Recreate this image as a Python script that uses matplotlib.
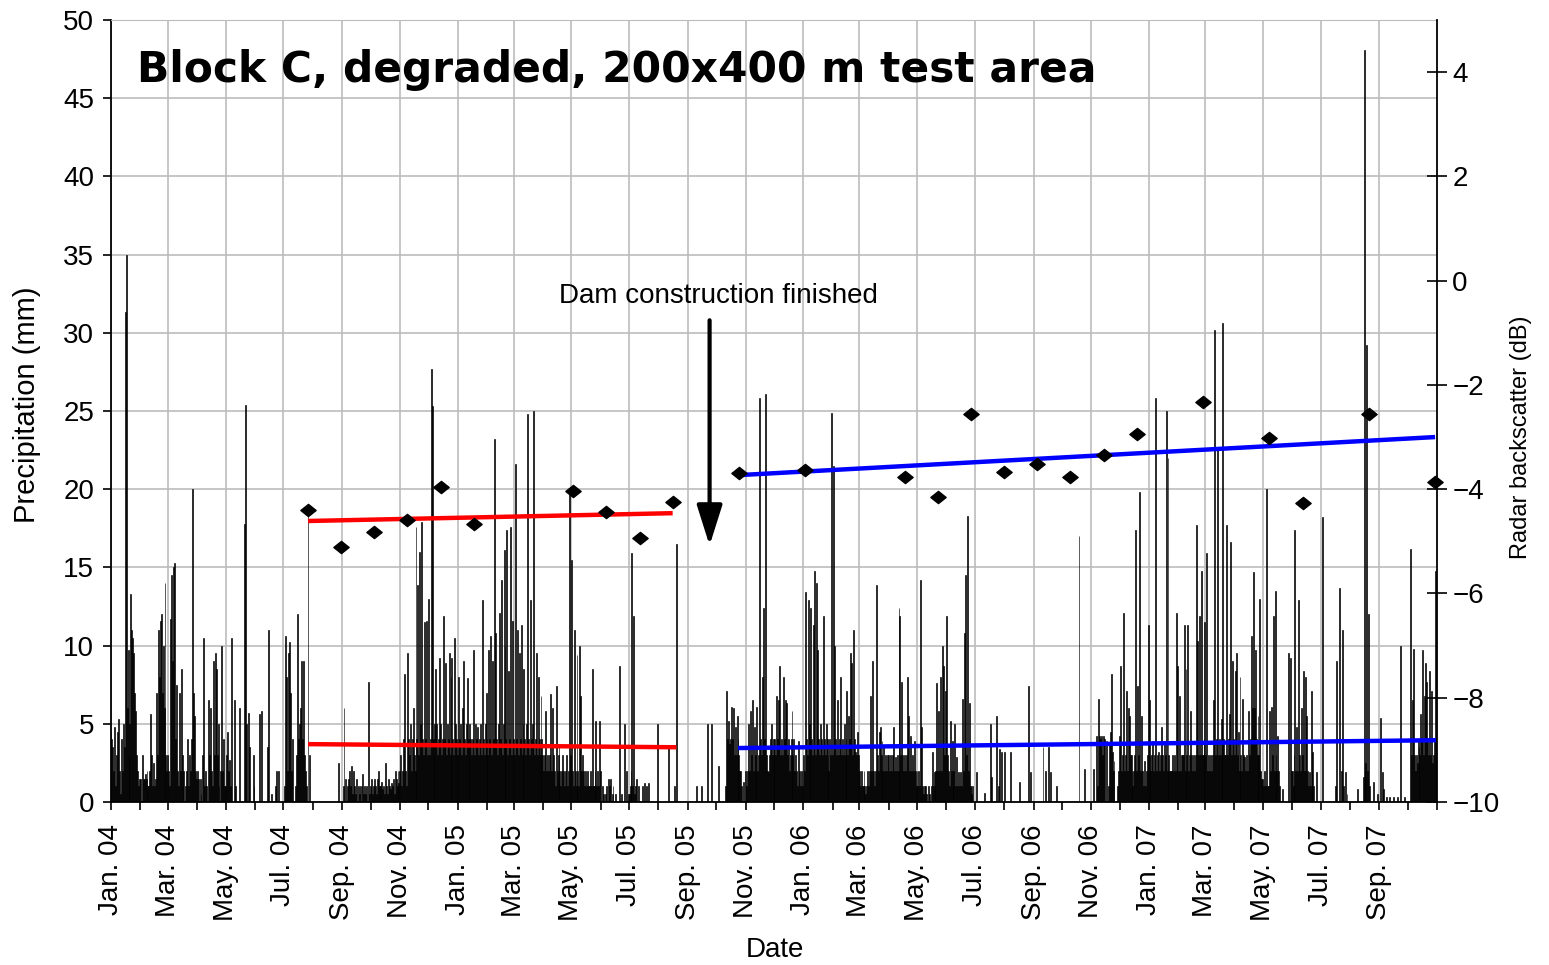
import numpy as np
import matplotlib
matplotlib.use("Agg")
import matplotlib.pyplot as plt
import matplotlib.dates as mdates
from matplotlib.path import Path

plt.rcParams['font.family'] = ['Liberation Sans', 'DejaVu Sans']

# ---------------- data ----------------
# Daily precipitation (mm), one inner list per calendar month
precip_2004 = [
    [4.5,4,3.5,2,4.8,1,3,4.5,5.3,2,0.5,4,2,5,3.5,31.3,35,6,9.7,3,5,13.3,11,10.5,9.5,7,5.8,3,2,1,1.5],
    [1.5,0,3,1.5,1.5,1.8,1.5,2,1,1,2,5.6,3,1,2.5,1,1.5,7,3,11,8,11.6,12,7,10,6,14,3,2],
    [3,2,1,11.7,14.5,9,15,15.3,4,7.5,2,1,7,2,8.5,3,1,2,0,1,2,4,1,3,2,4,20,7,5.5,2,1.5],
    [2,1.5,0,1.5,0.5,0,3,10.5,1,2,1,0,6.5,3,6,2,1,9,3,9.5,8.5,3,5,1,0,2,10,2,4,1],
    [1,3,4.5,2,2.7,1,10.5,0,0,6.5,1,0,0,0,0,6,0,0,0,0,17.8,25.4,5,0,5.7,3.5,0,0,0,3,1],
    [0,0,0,0,0,5.6,0,5.8,0,0,0,0,0,3.5,11,0,0,0.5,0,0,0,0,1,2,0,2,0,0,0,0],
    [0,1,10.6,8,2,9.5,10.2,1,7,2,4,0,0,1,3,12,4,5,6,9,4,9,3,2,1,0,18.5,0,3,0,0],
    [0,0,0,0,0,0,0,0,0,0,0,0,0,0,0,0,0,0,0,0,0,0,0,0,0,0,0,2.5,0,0,0],
    [0,1,6,0,1.5,0,1,1.5,2,1,2.3,0.5,2,1,0.5,1.5,0,1,0.5,1,0,1,1.8,0.5,1,0.5,1,0,7.7,0.5],
    [1,1.5,0.5,1,1.5,1,0.5,1.5,2,1,0.5,1,1.3,0.8,1,0.5,2.5,1,0.5,1.5,1,0.8,1.2,1,1.5,0.5,2,1.5,1,2,1.2],
    [2,3,1,2,4,8.2,2,1,9.5,4,3,5,2,4,6,3,2,17.6,4,13.9,3,16,5,17.9,4,3,11.5,4,11.6,3],
    [13,3,4,27.7,25.3,4,3,5,8.5,5,3,4,9.2,5,3,4,11.9,4,8.9,3,5,4,9.5,3,8,9.2,4,3,10.5,5,4],
]
precip_2005 = [
    [3,8,4,5,3,6,9,4,3,5,7.9,4,3,5,4,3,4,9.7,3,5,4,4.8,3,4,5,3,12.9,4,3,5,7],
    [4,3,9.7,4,10.6,3,9,4,23.2,10.8,4,3,5,12.1,4,14.2,3,5,16.1,10,4,17.4,3,8.4,4,17.6,3,11.6],
    [4,3,21.6,4,11,3,9.5,4,11.3,3,5,8.5,4,3,5,24.8,4,3,12.9,4,5,25,3,4,9.5,3,8,4,3,6.8,4],
    [3,2,3,5.8,2,3,2,3,6.9,2,6,3,2,1,7.4,2,3,3.7,2,1,2,3,2,1,2,3,1,2,19.8,3],
    [15.5,2,1,11,2,1,9.4,2,1,10,6.8,2,3,2,1,2,1,2,1,1,2,1,8.5,1,1,2,5.2,1,2,1,5.2],
    [2,0,1,0.5,0,0.5,1,0,1.5,1,1.5,0,0.5,1,0,0,0.5,0,0,0,8.7,0,0.5,0,0,5,0,2,0,0.5],
    [0.5,1,2,15.9,1,11.9,0.5,1,1.5,0,1,0,0,0,1,0,1.2,0,1,0,1.2,0,0,0,0,0,0,0,0,0,5],
    [0,0,0,0,0,0,0,0,0,0,0,3.5,0,0,0,0,0,1,0,16.5,0,0,0,0,0,0,0,0,0,0,0],
    [0,0,0,0,0,0,0,0,0,1,0,0,0,0,1,0,0,0,0,0,0,5,0,0,0,5,0,0,0,0],
    [0,0,2.3,0,0,0,0,0,0,0,1,7.1,4,5.2,3.7,4,6.1,4,6,3,4.8,3,5.5,4,3,2,2,1,0,1.3,0],
    [2,1,2,5,2,5.8,3,6.5,2,4.8,3,2,6.1,2,3,25.8,4,3,8,12.4,4,26.1,3,2,1.9,3,4,5,3,4],
    [3,4,3,6.8,4,6.5,8.7,3,4,3,8,4,6.5,6.3,3,4,2,3,4,5.8,3,4,2,3,2,1,3.9,2,1,2,1],
]
precip_2006 = [
    [3,2,13.4,4,3,12.9,5,3,12.4,4,3,11.3,14.8,3,14,9.7,4,3,5,4,3,11.9,4,3,5,4,3,2,4,3,24.9],
    [3,21.5,10,4,3,6.5,3,4,8,3,4,3,5,3,4,7.1,3,5.5,4,9.5,8.9,3,11,4,3.2,3,4.5,3],
    [2,1,2,1,1,2,1,0.5,1,2,1,2,6.8,2,9,2,1,2,13.9,3,2,4.5,4.8,3,3.9,2,3.5,2,3,2,3],
    [3,2,3,2,3,4.8,2,2.9,2,3,2,12.4,11.9,3,7.7,3,2,3,2,3,8,5.5,2,4.2,2,3,2,3.9,2,1],
    [2,1,2,1,14.2,4.8,1,0.5,1,1,0.5,0,1,0.5,0,1,3.2,1,1.9,1,2,7.6,2,5.8,2,8,2,10,8.7,3,7.1],
    [11.9,3,2,1,5.2,2,3.9,1,2,5,1,2.9,1,1.9,1,1.9,1,6.6,2,10.8,14.5,3,18.3,2,6.3,1,1,0.5,1,0],
    [0,0,1.9,0,0,0,0,0,0,0,0.6,0,0,0,0,0,0,5,1.6,0,0,0,0,5.5,0,1,3.4,0,3.2,0,0],
    [3.2,0,0,0,0,0,0,3.2,0,0,0,0,0,0,0,0,1.3,0,0,0,0,0,0,0,0,0,7.4,0,1.9,0,0],
    [0,0,0,0,0,0,0,0,0,0,3.5,0,0,2,0,0,3.5,0,1.9,0,0,0,0,0,1,0,0,0,0,0],
    [0,0,0,0,0,0,0,0,0,0,0,0,0,0,0,0,0,0,17,0,0,0,0,0,2.1,0,0,0,0,0,0],
    [0,0,2.1,0,0,4.2,0,1,6.6,4.2,4,4.2,3,4.2,4,0,3.9,0,1,3.7,4.5,8.2,3.2,2,2.6,0,0,0,1,2],
    [4.2,8.7,2,3,12.1,2,3,7.1,2,6,5.5,3,3,2,1,2,3,17.4,2,7.4,3,19.8,2,5.5,2,1,2.6,1,2,3,11.3],
]
precip_2007 = [
    [6.5,3,2,3,3.9,2,3,25.8,2,3,3.2,2,3,4.8,3,2,3.9,3,25,2,22,3,2,2,2,3,2,3,2,12.1,8.7],
    [2,6.8,2,3,3,3,11.3,2,8.5,3,11.3,2,3,5.8,3,2,3,2,3,17.7,10.3,3,11.9,3,14.8,3,3,4],
    [11.5,3,15.9,2,3,2,3,2,3,6.5,30.2,3,4,22.7,3,4,3,5.3,4,30.6,4,3,3,17.7,3,4,5.6,16.6,3,9,4],
    [3,8.4,9.5,3,4.5,2,8,3,2,6.6,3,2.9,2,3,2,5.8,3,4,10.6,6,14.7,6,9.7,4,3,5.5,3,13,2,1.5],
    [1.5,1,2,1,20,1,1,5.8,2,6.1,3,11.9,2,13.5,3,2,4.2,2,1,0,0,0.8,0,0,0,0,0,9.5,0,9.2,2],
    [2,1,3,17.4,2,4.8,2,12.9,3,2,6,3,8.4,2,8,5.5,2,1,1.9,1,7.1,2,3.2,1,0,0,1.9,0,0,0],
    [0,0,18.2,0,0,0,0,0,0,0,0,0,0,0,0,0,1,9,0,0,13.7,0,2,11,1,0,1.9,0,0.5,0,0],
    [0,0,0,0,0,0,0,0,0.8,0,0,0,0,0,1.6,48.1,2,2.5,29.2,2,12,1,0,0,0,1.3,0,0,0,0.5,0],
    [0,5.4,0,1.9,0,0.8,0,0,0.3,0,0,0.3,0,0,0,0.3,0,0,0,0.3,0,0,10,0,0,0,0,0.3,0,0],
    [0,0,0,16.2,3,6.5,9.8,3,2,3,2.5,4,3.5,3,5.6,4,9.7,3,6.8,8.9,7.7,4,3,8.4,3,7.1,2.5,3,4,14.8,3],
]

# Radar backscatter acquisitions (dB)
radar_dates = ['2004-07-27','2004-08-31','2004-10-05','2004-11-09','2004-12-14','2005-01-18',
               '2005-05-03','2005-06-07','2005-07-12','2005-08-16','2005-10-25','2006-01-03',
               '2006-04-18','2006-05-23','2006-06-27','2006-08-01','2006-09-05','2006-10-10',
               '2006-11-14','2006-12-19','2007-02-27','2007-05-08','2007-06-12','2007-08-21',
               '2007-10-30']
radar_db = [-4.40,-5.10,-4.82,-4.59,-3.96,-4.67,
            -4.04,-4.44,-4.94,-4.25,-3.69,-3.63,
            -3.77,-4.15,-2.56,-3.67,-3.52,-3.77,
            -3.34,-2.94,-2.33,-3.02,-4.27,-2.56,
            -3.86]

# Linear trend lines (end points)
trend_db_before_dates = ['2004-07-27', '2005-08-16']
trend_db_before = [-4.61, -4.46]
trend_db_after_dates = ['2005-10-25', '2007-10-30']
trend_db_after = [-3.73, -3.00]
trend_rain_before_dates = ['2004-07-27', '2005-08-20']
trend_rain_before = [3.70, 3.50]
trend_rain_after_dates = ['2005-10-24', '2007-10-31']
trend_rain_after = [3.45, 3.95]

# x tick positions (labelled months)
tick_dates = ['2004-01-01','2004-03-01','2004-05-01','2004-07-01','2004-09-01','2004-11-01',
              '2005-01-01','2005-03-01','2005-05-01','2005-07-01','2005-09-01','2005-11-01',
              '2006-01-01','2006-03-01','2006-05-01','2006-07-01','2006-09-01','2006-11-01',
              '2007-01-01','2007-03-01','2007-05-01','2007-07-01','2007-09-01']

title_text = 'Block C, degraded, 200x400 m test area'
event_text = 'Dam construction finished'
event_date = '2005-09-24'
event_arrow = [30.8, 16.4]   # mm, tail -> tip

# ---------------- build daily series ----------------
dates, vals = [], []
for year, months in [(2004, precip_2004), (2005, precip_2005),
                     (2006, precip_2006), (2007, precip_2007)]:
    for m, lst in enumerate(months, start=1):
        start = np.datetime64(f'{year}-{m:02d}-01')
        end = (np.datetime64(f'{year}-{m:02d}', 'M') + 1).astype('datetime64[D]')
        n = int((end - start).astype(int))
        v = (list(lst) + [0] * n)[:n]
        dates.extend(start + np.arange(n))
        vals.extend(v)
x = mdates.date2num(np.array(dates, dtype='datetime64[D]'))
vals = np.array(vals, dtype=float)

def dn(lst):
    return mdates.date2num(np.array(lst, dtype='datetime64[D]'))

# ---------------- figure ----------------
fig = plt.figure(figsize=(15.49, 9.65), dpi=100)
ax = fig.add_axes([111/1549, 1-802/965, (1437-111)/1549, (802-20)/965])
ax2 = ax.twinx()

grid_c = '#bcbcbc'
ax.bar(x, vals, width=1.0, color='black', edgecolor='black', linewidth=0.45, zorder=2)
ax.plot(dn(trend_rain_before_dates), trend_rain_before, color='#ff0000', lw=3.2, zorder=4,
        solid_capstyle='butt')
ax.plot(dn(trend_rain_after_dates), trend_rain_after, color='#0000ff', lw=3.2, zorder=4,
        solid_capstyle='butt')

ax.set_xlim(dn(['2004-01-01'])[0], dn(['2007-11-01'])[0])
ax.set_ylim(0, 50)
ax.yaxis.set_major_locator(plt.MultipleLocator(5))
ax.xaxis.set_major_locator(plt.FixedLocator(dn(tick_dates)))
ax.xaxis.set_major_formatter(mdates.DateFormatter('%b. %y'))
ax.xaxis.set_minor_locator(mdates.MonthLocator())
ax.grid(True, which='major', color=grid_c, lw=1.2, zorder=0)
ax.set_axisbelow(True)
ax.tick_params(axis='y', which='major', direction='out', length=6, width=1.2,
               labelsize=20, pad=6)
ax.tick_params(axis='x', which='both', direction='out', length=6, width=1.2,
               labelsize=20, pad=10, labelrotation=90)
for s in ['left', 'bottom']:
    ax.spines[s].set_color('black')
    ax.spines[s].set_linewidth(1.3)
ax.spines['top'].set_color(grid_c)
ax.spines['right'].set_visible(False)

# right axis: radar backscatter
diamond = Path([(-1, 0), (0, 0.8), (1, 0), (0, -0.8), (-1, 0)],
               [Path.MOVETO, Path.LINETO, Path.LINETO, Path.LINETO, Path.CLOSEPOLY])
ax2.plot(dn(trend_db_before_dates), trend_db_before, color='#ff0000', lw=3.2,
         solid_capstyle='butt', zorder=3)
ax2.plot(dn(trend_db_after_dates), trend_db_after, color='#0000ff', lw=3.2,
         solid_capstyle='butt', zorder=3)
ax2.plot(dn(radar_dates), radar_db, linestyle='none', marker=diamond, markersize=11,
         color='black', zorder=5, clip_on=False)
ax2.set_ylim(-10, 5)
ax2.set_yticks(np.arange(-10, 5, 2))
ax2.tick_params(axis='y', direction='inout', length=14, width=1.2, labelsize=20, pad=4)
for s in ['left', 'top', 'bottom']:
    ax2.spines[s].set_visible(False)
ax2.spines['right'].set_color('black')
ax2.spines['right'].set_linewidth(1.3)

# texts
fig.text(137/1549, 1-82/965, title_text, family='DejaVu Sans', fontweight='bold',
         fontsize=30.5, ha='left', va='baseline')
ax.text(dn(['2005-10-03'])[0], 31.9, event_text, fontsize=20, ha='center', va='baseline',
        zorder=6)
ax.annotate('', xy=(dn([event_date])[0], event_arrow[1]),
            xytext=(dn([event_date])[0], event_arrow[0]),
            arrowprops=dict(arrowstyle='-|>,head_width=0.3,head_length=0.95',
                            lw=3, color='black', mutation_scale=26, shrinkA=0, shrinkB=0),
            zorder=6)
fig.text(775/1549, 1-950/965, 'Date', fontsize=20, ha='center', va='center')
fig.text(27/1549, 1-405/965, 'Precipitation (mm)', fontsize=21, rotation=90,
         ha='center', va='center')
fig.text(1521/1549, 1-437/965, 'Radar backscatter (dB)', fontsize=17, rotation=90,
         ha='center', va='center')

fig.savefig('out.png', dpi=100)
